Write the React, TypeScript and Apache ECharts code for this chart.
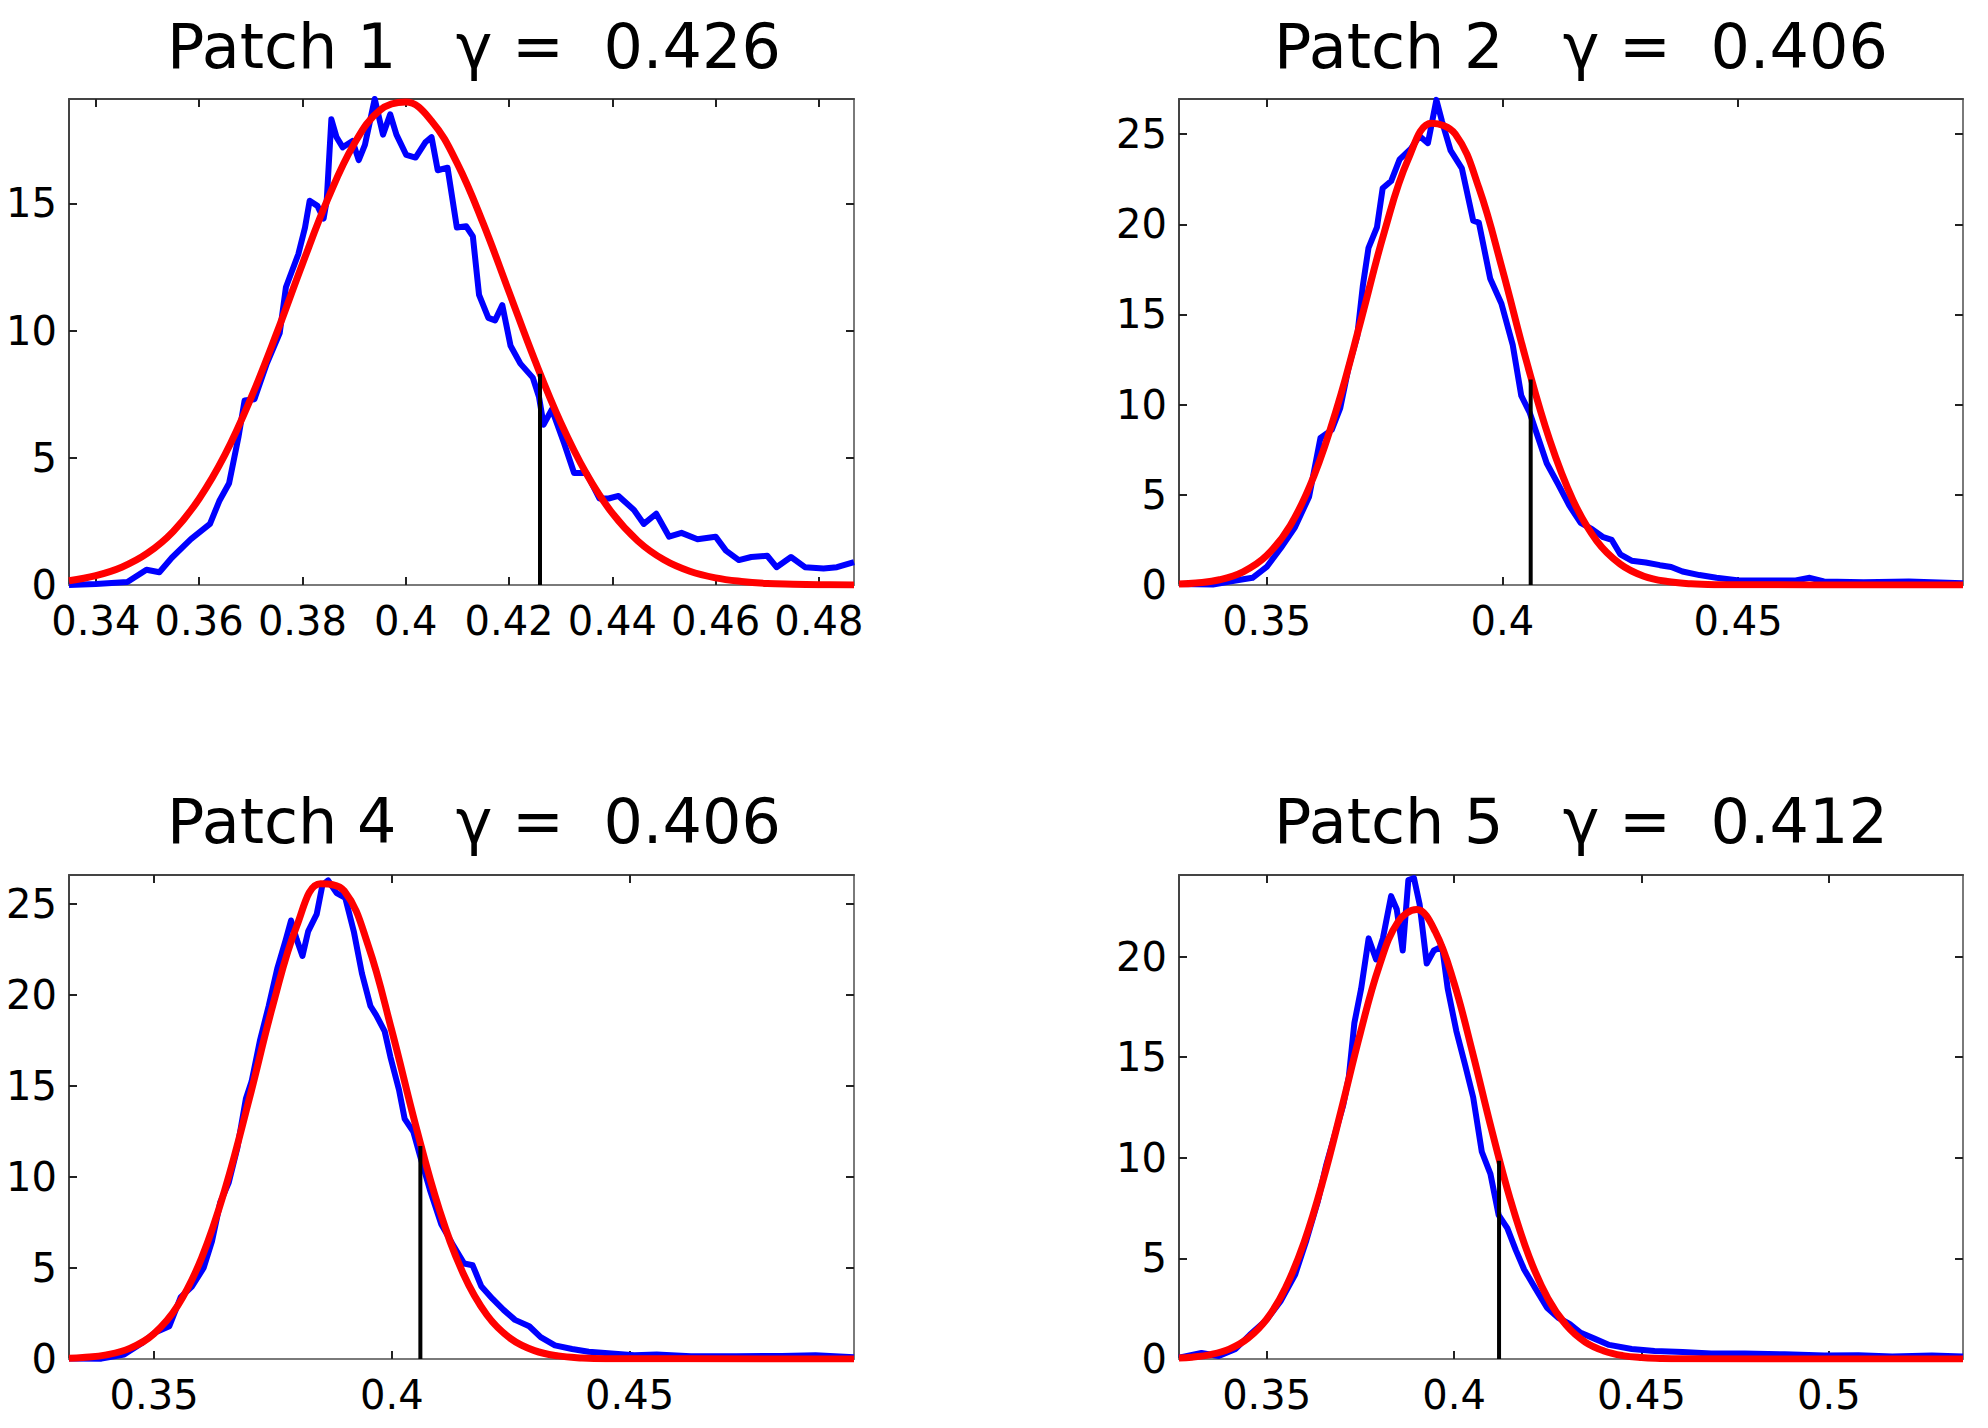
import React, { useEffect, useRef } from "react";
import * as echarts from "echarts";

const FONT = "'DejaVu Sans', Verdana, sans-serif";

const PATCH_NAMES = ["Patch 1", "Patch 2", "Patch 4", "Patch 5"];
const GAMMAS = [0.426, 0.406, 0.406, 0.412];
const MARKER_HEIGHTS = [8.3, 11.4, 11.7, 9.85];
const X_MIN = [0.3348, 0.3314, 0.3321, 0.3266];
const X_MAX = [0.4868, 0.4977, 0.4972, 0.5358];
const Y_MAX = [19.1, 26.95, 26.6, 24.05];
const X_TICKS = [
  [0.34, 0.36, 0.38, 0.4, 0.42, 0.44, 0.46, 0.48],
  [0.35, 0.4, 0.45],
  [0.35, 0.4, 0.45],
  [0.35, 0.4, 0.45, 0.5],
];
const Y_TICKS = [
  [0, 5, 10, 15],
  [0, 5, 10, 15, 20, 25],
  [0, 5, 10, 15, 20, 25],
  [0, 5, 10, 15, 20],
];

// Patch 1 histogram (blue)
const P1_BLUE = [
  [0.3348, 0.0], [0.34, 0.04], [0.3461, 0.12], [0.3498, 0.6], [0.3523, 0.5], [0.3547, 1.07],
  [0.3584, 1.8], [0.3621, 2.4], [0.3639, 3.3], [0.3658, 4.0], [0.3676, 5.8], [0.3688, 7.25],
  [0.3707, 7.3], [0.3731, 8.7], [0.3756, 9.9], [0.3768, 11.7], [0.3792, 13.0], [0.3805, 14.05],
  [0.3814, 15.1], [0.3829, 14.9], [0.3841, 14.4], [0.3847, 15.1], [0.3856, 18.3], [0.3866, 17.6],
  [0.3878, 17.2], [0.3897, 17.45], [0.3909, 16.7], [0.3921, 17.3], [0.394, 19.1], [0.3956, 17.7],
  [0.397, 18.5], [0.3982, 17.7], [0.4001, 16.9], [0.4019, 16.8], [0.4038, 17.4], [0.405, 17.6],
  [0.4062, 16.3], [0.4081, 16.4], [0.4099, 14.05], [0.4117, 14.1], [0.413, 13.7], [0.4142, 11.4],
  [0.416, 10.5], [0.4173, 10.4], [0.4187, 11.0], [0.4203, 9.4], [0.4222, 8.7], [0.4246, 8.15],
  [0.4258, 7.4], [0.4267, 6.3], [0.4283, 6.9], [0.4307, 5.55], [0.4326, 4.4], [0.435, 4.4],
  [0.4375, 3.4], [0.4393, 3.4], [0.4412, 3.5], [0.4442, 2.95], [0.4461, 2.4], [0.4485, 2.8],
  [0.451, 1.9], [0.4534, 2.05], [0.4565, 1.8], [0.46, 1.9], [0.462, 1.35], [0.4645, 0.98],
  [0.4669, 1.1], [0.47, 1.15], [0.4718, 0.7], [0.4746, 1.1], [0.4773, 0.7], [0.4809, 0.65],
  [0.4835, 0.7], [0.4868, 0.9],
];
const P1_RED = [
  [0.3348, 0.17], [0.34, 0.37], [0.345, 0.7], [0.35, 1.25], [0.355, 2.11], [0.36, 3.39],
  [0.365, 5.12], [0.37, 7.33], [0.375, 9.89], [0.38, 12.62], [0.385, 15.21], [0.39, 17.33],
  [0.395, 18.66], [0.4, 18.98], [0.405, 18.24], [0.41, 16.56], [0.415, 14.21], [0.42, 11.52],
  [0.425, 8.83], [0.43, 6.39], [0.435, 4.37], [0.44, 2.82], [0.445, 1.72], [0.45, 0.99],
  [0.455, 0.54], [0.46, 0.28], [0.465, 0.14], [0.47, 0.06], [0.475, 0.03], [0.48, 0.01], [0.4868, 0.0],
];

// Patch 2
const P2_BLUE = [
  [0.3314, 0.05], [0.3386, 0.03], [0.3434, 0.25], [0.347, 0.4], [0.35, 1.0], [0.353, 2.05],
  [0.356, 3.2], [0.359, 4.9], [0.3614, 8.15], [0.3638, 8.6], [0.3656, 9.8], [0.3674, 12.1],
  [0.3692, 13.8], [0.3704, 16.6], [0.3716, 18.7], [0.3734, 19.85], [0.3746, 22.0], [0.3764, 22.4],
  [0.3782, 23.6], [0.3806, 24.2], [0.3824, 24.9], [0.3842, 24.5], [0.386, 26.9], [0.3872, 25.7],
  [0.389, 24.1], [0.3914, 23.1], [0.3938, 20.2], [0.395, 20.1], [0.3974, 17.0], [0.3998, 15.6],
  [0.4022, 13.3], [0.404, 10.5], [0.4058, 9.55], [0.4076, 8.15], [0.4094, 6.75], [0.4118, 5.6],
  [0.4142, 4.4], [0.4166, 3.45], [0.419, 3.1], [0.4214, 2.65], [0.4232, 2.5], [0.425, 1.7],
  [0.4274, 1.35], [0.4304, 1.25], [0.4334, 1.1], [0.4358, 1.0], [0.4382, 0.75], [0.4418, 0.55],
  [0.4454, 0.4], [0.4502, 0.25], [0.4562, 0.25], [0.4622, 0.25], [0.4652, 0.4], [0.4682, 0.2],
  [0.4766, 0.15], [0.4862, 0.2], [0.491, 0.15], [0.4977, 0.1],
];
const P2_RED = [
  [0.3314, 0.05], [0.335, 0.11], [0.34, 0.29], [0.345, 0.73], [0.35, 1.63], [0.355, 3.3],
  [0.36, 6.03], [0.365, 9.91], [0.37, 14.68], [0.375, 19.62], [0.38, 23.6], [0.385, 25.6],
  [0.39, 25.01], [0.395, 22.03], [0.4, 17.49], [0.405, 12.51], [0.41, 8.06], [0.415, 4.69],
  [0.42, 2.45], [0.425, 1.16], [0.43, 0.49], [0.435, 0.19], [0.44, 0.07], [0.445, 0.02],
  [0.45, 0.01], [0.4977, 0.0],
];

// Patch 4
const P4_BLUE = [
  [0.3321, 0.03], [0.3389, 0.02], [0.3437, 0.25], [0.3473, 0.85], [0.3502, 1.45], [0.3532, 1.8],
  [0.3556, 3.4], [0.358, 4.0], [0.3604, 5.0], [0.3622, 6.5], [0.3639, 8.6], [0.3657, 9.7],
  [0.3675, 11.6], [0.3693, 14.3], [0.3705, 15.25], [0.3723, 17.55], [0.3741, 19.4], [0.3759, 21.45],
  [0.3777, 23.05], [0.3788, 24.1], [0.38, 23.05], [0.3812, 22.15], [0.3824, 23.5], [0.3842, 24.45],
  [0.3854, 26.05], [0.3866, 26.3], [0.3884, 25.6], [0.3902, 25.35], [0.392, 23.5], [0.3937, 21.2],
  [0.3955, 19.4], [0.3967, 18.9], [0.3985, 18.0], [0.3997, 16.6], [0.4015, 14.8], [0.4027, 13.2],
  [0.4045, 12.5], [0.406, 11.1], [0.408, 9.3], [0.4104, 7.4], [0.4128, 6.3], [0.4152, 5.25],
  [0.417, 5.15], [0.4188, 4.0], [0.4212, 3.3], [0.4235, 2.7], [0.4259, 2.15], [0.4289, 1.8],
  [0.4313, 1.2], [0.4343, 0.75], [0.4379, 0.55], [0.4414, 0.4], [0.4462, 0.3], [0.451, 0.2],
  [0.4557, 0.25], [0.4629, 0.15], [0.4724, 0.15], [0.482, 0.17], [0.4891, 0.2], [0.4972, 0.1],
];
const P4_RED = [
  [0.3321, 0.04], [0.335, 0.08], [0.34, 0.23], [0.345, 0.6], [0.35, 1.4], [0.355, 2.95],
  [0.36, 5.56], [0.365, 9.41], [0.37, 14.28], [0.375, 19.46], [0.38, 23.8], [0.385, 26.12],
  [0.39, 25.72], [0.395, 22.75], [0.4, 18.04], [0.405, 12.85], [0.41, 8.2], [0.415, 4.7],
  [0.42, 2.42], [0.425, 1.12], [0.43, 0.46], [0.435, 0.17], [0.44, 0.06], [0.445, 0.02],
  [0.4972, 0.0],
];

// Patch 5
const P5_BLUE = [
  [0.3266, 0.06], [0.3326, 0.3], [0.3372, 0.15], [0.3417, 0.5], [0.3455, 1.2], [0.35, 1.95],
  [0.3538, 2.9], [0.3576, 4.2], [0.3606, 5.9], [0.3636, 7.8], [0.3659, 9.65], [0.3681, 11.1],
  [0.3704, 12.6], [0.3719, 14.0], [0.3734, 16.7], [0.3752, 18.4], [0.3772, 20.9], [0.3792, 19.85],
  [0.381, 20.9], [0.3832, 23.0], [0.3847, 22.35], [0.3863, 20.3], [0.3878, 23.8], [0.3893, 23.9],
  [0.3908, 22.6], [0.3927, 19.65], [0.3946, 20.3], [0.3968, 20.5], [0.3983, 18.4], [0.4006, 16.3],
  [0.4029, 14.65], [0.4051, 13.0], [0.4074, 10.3], [0.4097, 9.2], [0.4119, 7.15], [0.4142, 6.5],
  [0.4165, 5.4], [0.4187, 4.45], [0.4217, 3.5], [0.4248, 2.55], [0.4278, 2.05], [0.4308, 1.75],
  [0.4338, 1.3], [0.4376, 1.0], [0.4414, 0.7], [0.4474, 0.5], [0.4535, 0.4], [0.461, 0.35],
  [0.4686, 0.27], [0.4776, 0.27], [0.4882, 0.23], [0.4988, 0.17], [0.5079, 0.19], [0.5169, 0.13],
  [0.5275, 0.17], [0.5358, 0.13],
];
const P5_RED = [
  [0.3266, 0.05], [0.33, 0.09], [0.335, 0.22], [0.34, 0.49], [0.345, 1.03], [0.35, 1.98],
  [0.355, 3.53], [0.36, 5.81], [0.365, 8.85], [0.37, 12.46], [0.375, 16.21], [0.38, 19.51],
  [0.385, 21.71], [0.39, 22.33], [0.395, 21.23], [0.4, 18.68], [0.405, 15.18], [0.41, 11.41],
  [0.415, 7.93], [0.42, 5.09], [0.425, 3.02], [0.43, 1.66], [0.435, 0.84], [0.44, 0.4],
  [0.445, 0.17], [0.45, 0.07], [0.455, 0.03], [0.46, 0.01], [0.5358, 0.0],
];

const BLUE = [P1_BLUE, P2_BLUE, P4_BLUE, P5_BLUE];
const RED = [P1_RED, P2_RED, P4_RED, P5_RED];

const LAYOUT = [
  { left: 69, top: 99, width: 785, height: 486, titleX: 474, titleY: 46 },
  { left: 1179, top: 99, width: 784, height: 486, titleX: 1581, titleY: 46 },
  { left: 69, top: 875, width: 785, height: 484, titleX: 474, titleY: 821 },
  { left: 1179, top: 875, width: 784, height: 484, titleX: 1581, titleY: 821 },
];

const NB = "\u00A0";

function buildOption() {
  const grid: any[] = [];
  const xAxis: any[] = [];
  const yAxis: any[] = [];
  const series: any[] = [];
  const graphic: any[] = [];

  LAYOUT.forEach((l, i) => {
    grid.push({ left: l.left, top: l.top, width: l.width, height: l.height, containLabel: false });
    const tickStyle = { color: "#222", width: 2 };
    const lineDark = { color: "#444", width: 2 };
    const lineLight = { color: "#7a7a7a", width: 2 };
    xAxis.push({
      type: "value",
      gridIndex: i,
      position: "bottom",
      min: X_MIN[i],
      max: X_MAX[i],
      axisLine: { show: true, onZero: false, lineStyle: lineLight },
      axisTick: { show: true, inside: true, length: 8, lineStyle: tickStyle, customValues: X_TICKS[i] },
      axisLabel: {
        show: true,
        customValues: X_TICKS[i],
        margin: 16,
        fontSize: 40,
        fontFamily: FONT,
        color: "#000",
      },
      splitLine: { show: false },
    });
    xAxis.push({
      type: "value",
      gridIndex: i,
      position: "top",
      min: X_MIN[i],
      max: X_MAX[i],
      axisLine: { show: true, onZero: false, lineStyle: lineDark },
      axisTick: { show: true, inside: true, length: 8, lineStyle: tickStyle, customValues: X_TICKS[i] },
      axisLabel: { show: false },
      splitLine: { show: false },
    });
    yAxis.push({
      type: "value",
      gridIndex: i,
      position: "left",
      min: 0,
      max: Y_MAX[i],
      axisLine: { show: true, onZero: false, lineStyle: lineDark },
      axisTick: { show: true, inside: true, length: 8, lineStyle: tickStyle, customValues: Y_TICKS[i] },
      axisLabel: {
        show: true,
        customValues: Y_TICKS[i],
        margin: 12,
        fontSize: 40,
        fontFamily: FONT,
        color: "#000",
      },
      splitLine: { show: false },
    });
    yAxis.push({
      type: "value",
      gridIndex: i,
      position: "right",
      min: 0,
      max: Y_MAX[i],
      axisLine: { show: true, onZero: false, lineStyle: lineLight },
      axisTick: { show: true, inside: true, length: 8, lineStyle: tickStyle, customValues: Y_TICKS[i] },
      axisLabel: { show: false },
      splitLine: { show: false },
    });

    series.push({
      type: "line",
      xAxisIndex: 2 * i,
      yAxisIndex: 2 * i,
      data: BLUE[i],
      symbol: "none",
      showSymbol: false,
      silent: true,
      clip: true,
      z: 2,
      lineStyle: { color: "#0000ff", width: 6, join: "round" },
      itemStyle: { color: "#0000ff" },
    });
    series.push({
      type: "line",
      xAxisIndex: 2 * i,
      yAxisIndex: 2 * i,
      data: RED[i],
      smooth: 0.4,
      symbol: "none",
      showSymbol: false,
      silent: true,
      clip: true,
      z: 3,
      lineStyle: { color: "#ff0000", width: 7, join: "round" },
      itemStyle: { color: "#ff0000" },
    });
    series.push({
      type: "line",
      xAxisIndex: 2 * i,
      yAxisIndex: 2 * i,
      data: [
        [GAMMAS[i], 0],
        [GAMMAS[i], MARKER_HEIGHTS[i]],
      ],
      symbol: "none",
      showSymbol: false,
      silent: true,
      z: 4,
      lineStyle: { color: "#000000", width: 4 },
      itemStyle: { color: "#000000" },
    });

    const text = `${PATCH_NAMES[i]}${NB}${NB}${NB}γ${NB}=${NB}${NB}${GAMMAS[i].toFixed(3)}`;
    graphic.push({
      type: "text",
      x: l.titleX,
      y: l.titleY,
      silent: true,
      style: {
        text,
        fontSize: 62,
        fontFamily: FONT,
        fill: "#000",
        align: "center",
        verticalAlign: "middle",
      },
    });
  });

  return {
    animation: false,
    backgroundColor: "#ffffff",
    grid,
    xAxis,
    yAxis,
    series,
    graphic,
  };
}

export default function App() {
  const ref = useRef<HTMLDivElement | null>(null);
  useEffect(() => {
    document.body.style.margin = "0";
    if (!ref.current) return;
    const chart = echarts.init(ref.current, undefined, { renderer: "svg" });
    chart.setOption(buildOption() as any);
    return () => {
      chart.dispose();
    };
  }, []);
  return <div ref={ref} style={{ width: 1988, height: 1428, background: "#fff" }} />;
}
